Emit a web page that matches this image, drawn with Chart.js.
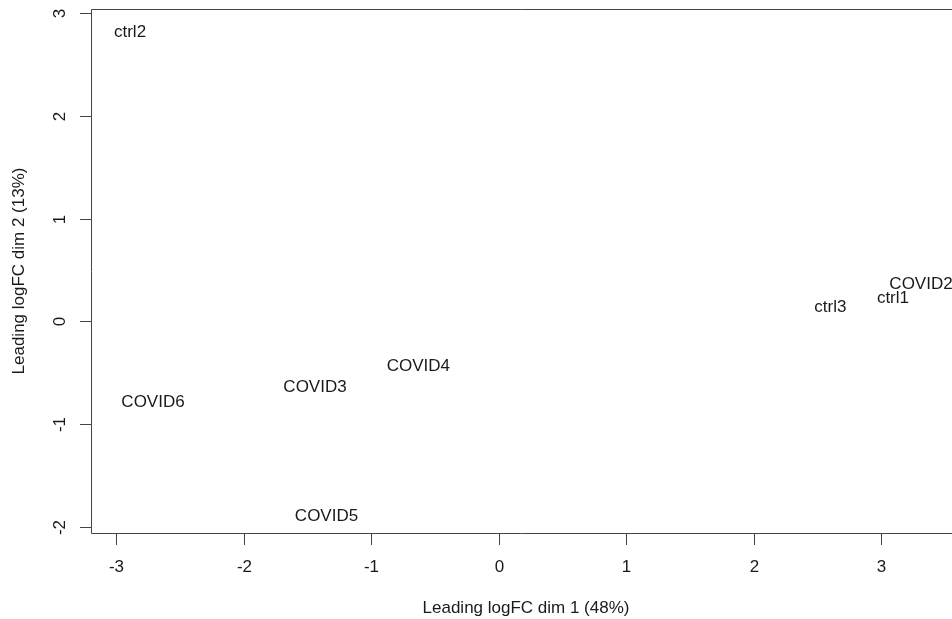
<!DOCTYPE html>
<html>
<head>
<meta charset="utf-8">
<script src="https://cdn.jsdelivr.net/npm/chart.js@4.4.1/dist/chart.umd.min.js"></script>
<style>
  html, body { margin: 0; padding: 0; background: #fff; }
  #wrap { width: 952px; height: 619px; }
</style>
</head>
<body>
<div id="wrap"><canvas id="mds"></canvas></div>
<script>
// sample labels and their MDS coordinates
const samples = ["ctrl2", "COVID2", "ctrl1", "ctrl3", "COVID4", "COVID3", "COVID6", "COVID5"];
const dim1 = [-2.89, 3.31, 3.09, 2.60, -0.63, -1.44, -2.71, -1.35];
const dim2 = [2.83, 0.38, 0.24, 0.16, -0.42, -0.62, -0.77, -1.88];
const xTicks = [-3, -2, -1, 0, 1, 2, 3];
const yTicks = [-2, -1, 0, 1, 2, 3];

const FONT = "17px 'Liberation Sans', Arial, sans-serif";
const INK = "#1a1a1a";
const LINE = "#444";
const DY = 2; // nudge text down to sit like R's

// draw the R style box, ticks, labels and sample names
const rPlot = {
    id: "rPlot",
    afterDatasetsDraw(chart) {
        const ctx = chart.ctx;
        const a = chart.chartArea;
        const xs = chart.scales.x, ys = chart.scales.y;
        ctx.save();
        ctx.strokeStyle = LINE;
        ctx.lineWidth = 1;

        // box (right side falls outside the picture)
        ctx.beginPath();
        ctx.moveTo(a.right, a.top + 0.5);
        ctx.lineTo(a.left + 0.5, a.top + 0.5);
        ctx.lineTo(a.left + 0.5, a.bottom + 0.5);
        ctx.lineTo(a.right, a.bottom + 0.5);
        ctx.stroke();

        ctx.fillStyle = INK;
        ctx.font = FONT;

        // x axis
        ctx.textAlign = "center";
        ctx.textBaseline = "middle";
        xTicks.forEach(v => {
            const px = Math.round(xs.getPixelForValue(v)) + 0.5;
            ctx.beginPath();
            ctx.moveTo(px, a.bottom);
            ctx.lineTo(px, a.bottom + 12);
            ctx.stroke();
            ctx.fillText(String(v), px, a.bottom + 32 + DY);
        });

        // y axis, labels turned like R
        yTicks.forEach(v => {
            const py = Math.round(ys.getPixelForValue(v)) + 0.5;
            ctx.beginPath();
            ctx.moveTo(a.left - 11, py);
            ctx.lineTo(a.left, py);
            ctx.stroke();
            ctx.save();
            ctx.translate(a.left - 31, py);
            ctx.rotate(-Math.PI / 2);
            ctx.fillText(String(v), 0, 0);
            ctx.restore();
        });

        // axis titles
        ctx.fillText("Leading logFC dim 1 (48%)", 526, 606 + DY);
        ctx.save();
        ctx.translate(19, (a.top + a.bottom) / 2);
        ctx.rotate(-Math.PI / 2);
        ctx.fillText("Leading logFC dim 2 (13%)", 0, 0);
        ctx.restore();

        // sample names at their points
        const meta = chart.getDatasetMeta(0);
        meta.data.forEach((pt, i) => {
            ctx.fillText(samples[i], pt.x, pt.y + DY);
        });
        ctx.restore();
    }
};

new Chart(document.getElementById("mds"), {
    type: "scatter",
    data: {
        datasets: [
            {
                label: "samples",
                data: samples.map((s, i) => ({ x: dim1[i], y: dim2[i] })),
                pointRadius: 0,
                pointHoverRadius: 0,
            },
        ],
    },
    options: {
        responsive: true,
        maintainAspectRatio: false,
        animation: false,
        events: [],
        layout: { padding: { left: 91, top: 9, right: 0, bottom: 86 } },
        plugins: {
            legend: { display: false },
            tooltip: { enabled: false },
        },
        scales: {
            x: { type: "linear", display: false, min: -3.196, max: 3.553 },
            y: { type: "linear", display: false, min: -2.058, max: 3.04 },
        },
    },
    plugins: [rPlot],
});
</script>
</body>
</html>
